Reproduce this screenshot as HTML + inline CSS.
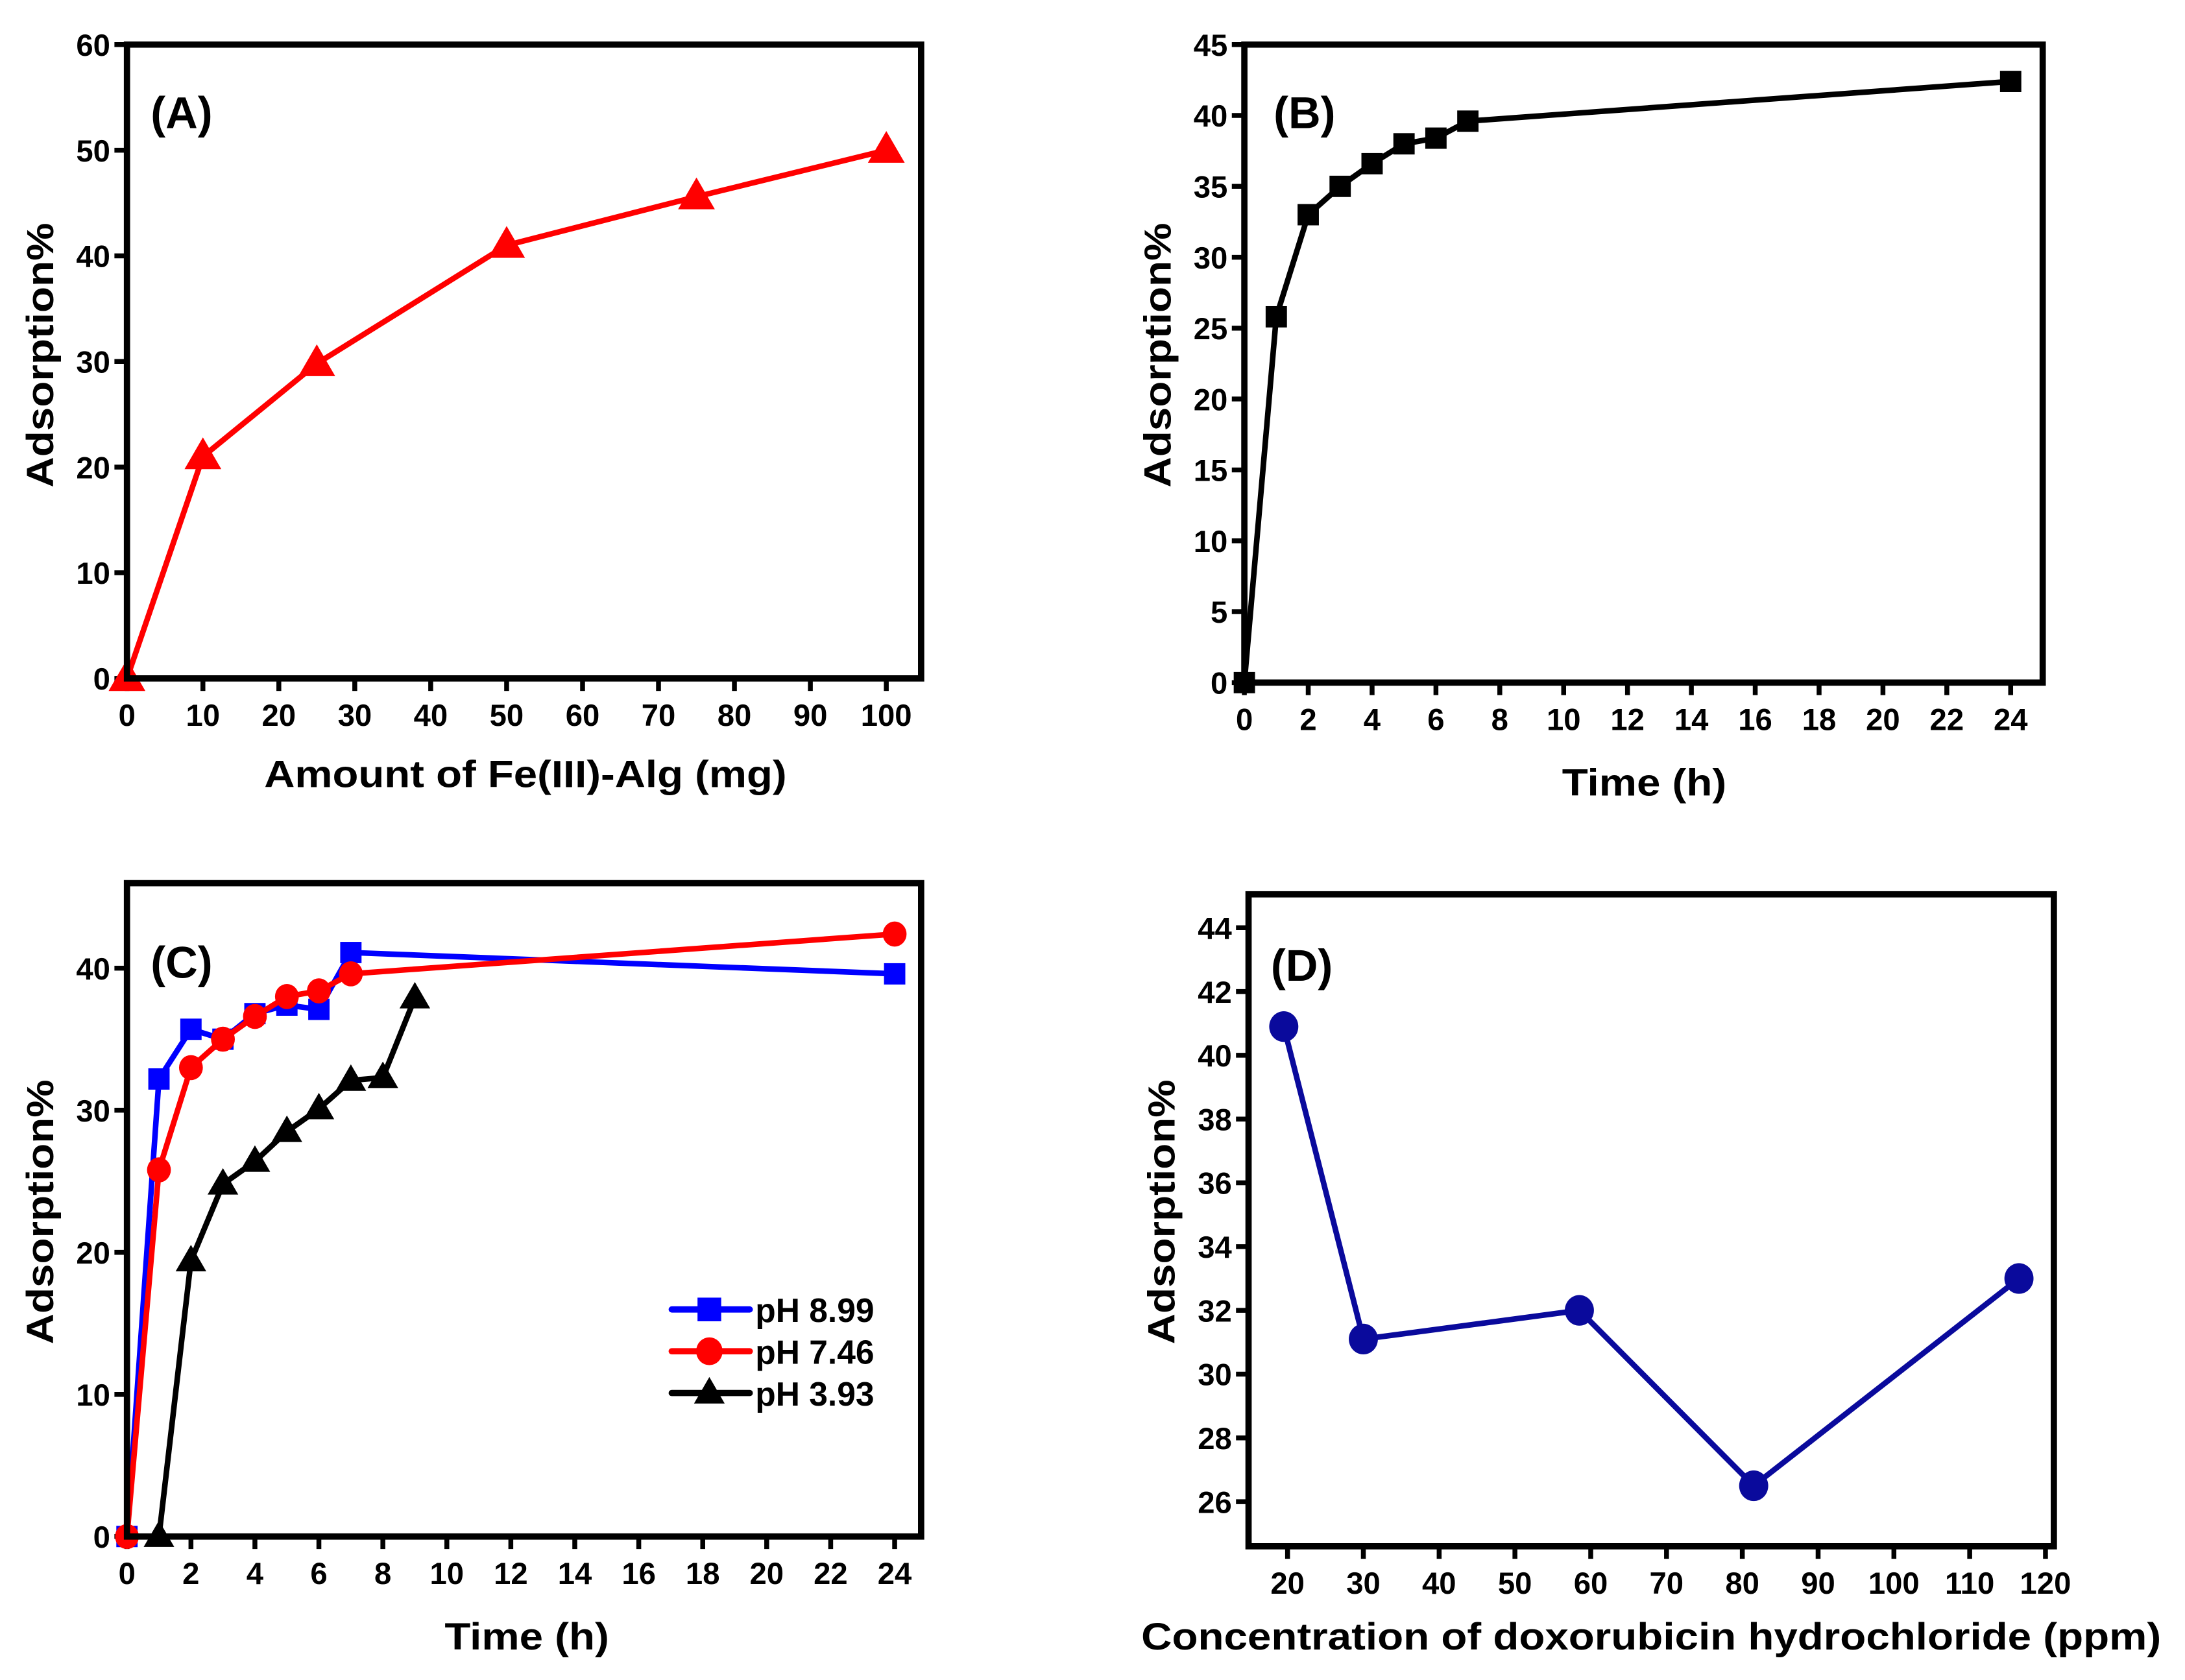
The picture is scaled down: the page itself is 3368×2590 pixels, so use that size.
<!DOCTYPE html>
<html><head><meta charset="utf-8"><style>
html,body{margin:0;padding:0;background:#fff;}
svg{display:block;}
text{font-family:"Liberation Sans",sans-serif;font-weight:bold;fill:#000;}
.tk{font-family:"Liberation Sans Narrow","Liberation Sans",sans-serif;font-size:22px;}
.ttl{font-size:27px;}
.pl{font-size:32px;}
</style></head><body>
<svg id="fig" width="3368" height="2590" viewBox="0 0 1568 1206" xmlns="http://www.w3.org/2000/svg"></svg>
<script>
// Panel A data
const aX = [0, 10, 25, 50, 75, 100];
const aY = [0, 21, 29.8, 41, 45.6, 50];
const aXTicks = [0,10,20,30,40,50,60,70,80,90,100];
const aYTicks = [0,10,20,30,40,50,60];
// Panel B data
const bX = [0,1,2,3,4,5,6,7,24];
const bY = [0,25.8,33,35,36.6,38,38.4,39.6,42.4];
const bXTicks = [0,2,4,6,8,10,12,14,16,18,20,22,24];
const bYTicks = [0,5,10,15,20,25,30,35,40,45];
// Panel C data
const cX899 = [0,1,2,3,4,5,6,7,24];
const cY899 = [0,32.2,35.7,35,36.8,37.4,37.1,41.1,39.6];
const cX746 = [0,1,2,3,4,5,6,7,24];
const cY746 = [0,25.8,33,35,36.6,38,38.4,39.6,42.4];
const cX393 = [1,2,3,4,5,6,7,8,9];
const cY393 = [0,19.4,24.8,26.4,28.5,30.1,32.1,32.3,37.9];
const cXTicks = [0,2,4,6,8,10,12,14,16,18,20,22,24];
const cYTicks = [0,10,20,30,40];
const cLegend = ["pH 8.99","pH 7.46","pH 3.93"];
// Panel D data
const dX = [19.5,30,58.5,81.5,116.5];
const dY = [40.9,31.1,32,26.5,33];
const dXTicks = [20,30,40,50,60,70,80,90,100,110,120];
const dYTicks = [26,28,30,32,34,36,38,40,42,44];

const NS="http://www.w3.org/2000/svg";
const svg=document.getElementById('fig');
function mk(tag,attrs,parent,txt){const e=document.createElementNS(NS,tag);for(const k in attrs)e.setAttribute(k,attrs[k]);if(txt!==undefined)e.textContent=txt;(parent||svg).appendChild(e);return e;}
function lin(d0,d1,r0,r1){return v=>r0+(v-d0)*(r1-r0)/(d1-d0);}

function panel(o){
  const g=mk('g',{});
  
  
  const sx=lin(o.xd[0],o.xd[1],o.xr[0],o.xr[1]);
  const sy=lin(o.yd[0],o.yd[1],o.yr[0],o.yr[1]);
  o.xt.forEach(t=>{const x=sx(t);
    const l=mk('line',{x1:x,x2:x,y1:o.box[3],y2:o.box[3]+9,stroke:'#000','stroke-width':3.5},g);
    
    const tx=mk('text',{x:x,y:o.box[3]+34,'text-anchor':'middle',class:'tk'},g,String(t));
    });
  o.yt.forEach(t=>{const y=sy(t);
    const l=mk('line',{x1:o.box[0]-9,x2:o.box[0],y1:y,y2:y,stroke:'#000','stroke-width':3.5},g);
    
    const tx=mk('text',{x:o.box[0]-12,y:y+8,'text-anchor':'end',class:'tk'},g,String(t));
    });
  const xl=mk('text',{x:o.xlab[0],y:o.xlab[1],'text-anchor':'middle',class:'ttl',textLength:o.xlab[2],lengthAdjust:'spacingAndGlyphs'},g,o.xlab[3]);
  
  const yl=mk('text',{x:0,y:0,'text-anchor':'middle',class:'ttl',transform:`translate(${o.ylab[0]},${o.ylab[1]}) rotate(-90)`,textLength:190,lengthAdjust:'spacingAndGlyphs'},g,'Adsorption%');
  
  const pl=mk('text',{x:o.pl[0],y:o.pl[1],class:'pl'},g,o.pl[2]);
  
  const data=mk('g',{},g);
  
  const box=mk('rect',{x:o.box[0],y:o.box[1],width:o.box[2]-o.box[0],height:o.box[3]-o.box[1],fill:'none',stroke:'#000','stroke-width':4.5},g);
  
  return {g:data,sx,sy};
}
function marker(g,type,x,y,color,r){
  let e;
  if(type==='tri') e=mk('polygon',{points:`${x},${y-r*1.15} ${x-r*1.1},${y+r*0.75} ${x+r*1.1},${y+r*0.75}`,fill:color},g);
  else if(type==='sq') e=mk('rect',{x:x-r*0.85,y:y-r*0.85,width:r*1.7,height:r*1.7,fill:color},g);
  else e=mk('ellipse',{cx:x,cy:y,rx:r*0.95,ry:r,fill:color},g);
  
  return e;
}
function series(p,xs,ys,color,type,r,name){
  const pts=xs.map((v,i)=>[p.sx(v),p.sy(ys[i])]);
  const pl=mk('polyline',{points:pts.map(q=>q.join(',')).join(' '),fill:'none',stroke:color,'stroke-width':4,'stroke-linejoin':'round','stroke-linecap':'round'},p.g);
  
  pts.forEach(q=>marker(p.g,type,q[0],q[1],color,r));
}

// A
const pA=panel({name:'panel-a',box:[91,32,661,487],xd:[0,100],xr:[91,636],yd:[0,60],yr:[487,32],xt:aXTicks,yt:aYTicks,
  xlab:[377,565,375,'Amount of Fe(III)-Alg (mg)'],ylab:[38,255],pl:[108,92,'(A)']});
series(pA,aX,aY,'#ff0000','tri',12,'series-a');
// B
const pB=panel({name:'panel-b',box:[893,32,1466,490],xd:[0,24],xr:[893,1443],yd:[0,45],yr:[490,32],xt:bXTicks,yt:bYTicks,
  xlab:[1180,571,118,'Time (h)'],ylab:[840,255],pl:[914,92,'(B)']});
series(pB,bX,bY,'#000','sq',9,'series-b');
// C
const pC=panel({name:'panel-c',box:[91,634,661,1103],xd:[0,24],xr:[91,642],yd:[0,40],yr:[1103,695],xt:cXTicks,yt:cYTicks,
  xlab:[378,1184,118,'Time (h)'],ylab:[38,870],pl:[108,702,'(C)']});
series(pC,cX899,cY899,'#0000ff','sq',9,'series-ph899');
series(pC,cX746,cY746,'#ff0000','circ',9,'series-ph746');
series(pC,cX393,cY393,'#000','tri',10,'series-ph393');
const legCols=['#0000ff','#ff0000','#000'],legTypes=['sq','circ','tri'];
cLegend.forEach((t,i)=>{const y=940+i*30;
  const lg=mk('g',{},pC.g);
  mk('line',{x1:482,x2:538,y1:y,y2:y,stroke:legCols[i],'stroke-width':4.5,'stroke-linecap':'round'},lg);
  marker(lg,legTypes[i],509,y,legCols[i],10);
  mk('text',{x:542,y:y+9,class:'tk',style:'font-size:24px'},lg,t);});
// D
const pD=panel({name:'panel-d',box:[896,642,1474,1110],xd:[20,120],xr:[924,1468],yd:[26,44],yr:[1078,666],xt:dXTicks,yt:dYTicks,
  xlab:[1185,1184,732,'Concentration of doxorubicin hydrochloride (ppm)'],ylab:[843,870],pl:[912,704,'(D)']});
series(pD,dX,dY,'#0a0a9c','circ',11,'series-d');
</script>
</body></html>
